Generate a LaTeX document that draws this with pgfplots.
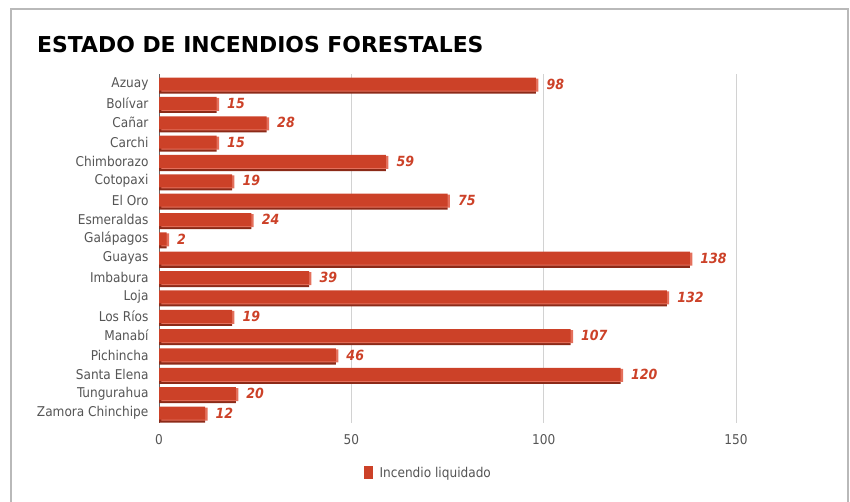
\documentclass[border=0pt]{standalone}
\usepackage{pgfplots}
\pgfplotsset{compat=1.18}
\usepackage{pgfplotstable}
\usepackage{fontspec}
\setmainfont{DejaVu Sans Condensed}
\newfontfamily\titlefont{DejaVu Sans}
\definecolor{barmain}{RGB}{204,65,40}
\definecolor{bardark}{RGB}{140,42,24}
\definecolor{barlight}{RGB}{228,112,92}
\definecolor{lbl}{RGB}{204,65,40}
\definecolor{txt}{RGB}{85,85,85}
\pgfplotstableread{
idx val
0 98
1 15
2 28
3 15
4 59
5 19
6 75
7 24
8 2
9 138
10 39
11 132
12 19
13 107
14 46
15 120
16 20
17 12
}\datatable
\begin{document}
\begin{tikzpicture}[x=1pt,y=1pt]
\path[use as bounding box] (0pt,0pt) rectangle (850pt,502pt);
\draw[gray!55, line width=1.2pt] (11pt,0pt) -- (11pt,493pt) -- (848pt,493pt) -- (848pt,0pt);
\node[anchor=base west, inner sep=0pt, font=\titlefont\bfseries\fontsize{21.9}{24}\selectfont] at (37pt,449pt) {ESTADO DE INCENDIOS FORESTALES};
\begin{axis}[
  at={(159pt,79.3pt)}, anchor=south west,
  scale only axis, width=673.2pt, height=348.3pt,
  xmin=0, xmax=175, ymin=-0.5, ymax=17.5,
  y dir=reverse,
  axis lines*=left,
  x axis line style={draw=none},
  y axis line style={draw=gray!80!black, line width=0.8pt},
  xtick={0,50,100,150},
  ytick={0,...,17},
  yticklabels={Azuay,Bolívar,Cañar,Carchi,Chimborazo,Cotopaxi,El Oro,Esmeraldas,Galápagos,Guayas,Imbabura,Loja,Los Ríos,Manabí,Pichincha,Santa Elena,Tungurahua,Zamora Chinchipe},
  major tick length=0pt,
  xmajorgrids, grid style={gray!35, line width=0.8pt},
  tick label style={text=txt, font=\fontsize{13.5}{15}\selectfont},
  xticklabel style={yshift=-8pt},
  yticklabel style={xshift=-7pt},
  /pgf/number format/assume math mode=true,
  clip=false,
  legend style={at={(0.40,-0.115)}, anchor=north, draw=none, font=\fontsize{13.5}{15}\selectfont\color{txt}, legend cell align=left},
  legend image code/.code={\fill[barmain] (0pt,-6.5pt) rectangle (9pt,7pt); \path (14pt,0pt);},
]
\addplot[xbar, bar width=13.5pt, bar shift=0pt, fill=bardark, draw=none, yshift=-2.8pt, forget plot] table[x=val, y=idx] {\datatable};
\addplot[xbar, bar width=13pt, bar shift=0pt, fill=barlight, draw=none, xshift=2.4pt, yshift=-1pt, forget plot] table[x=val, y=idx] {\datatable};
\addplot[xbar, bar width=13pt, bar shift=0pt, fill=barmain, draw=none,
  nodes near coords,
  every node near coord/.style={anchor=west, xshift=7pt, text=lbl, font=\bfseries\itshape\fontsize{14}{16}\selectfont}
] table[x=val, y=idx] {\datatable};
\addlegendentry{Incendio liquidado}
\end{axis}
\end{tikzpicture}
\end{document}
